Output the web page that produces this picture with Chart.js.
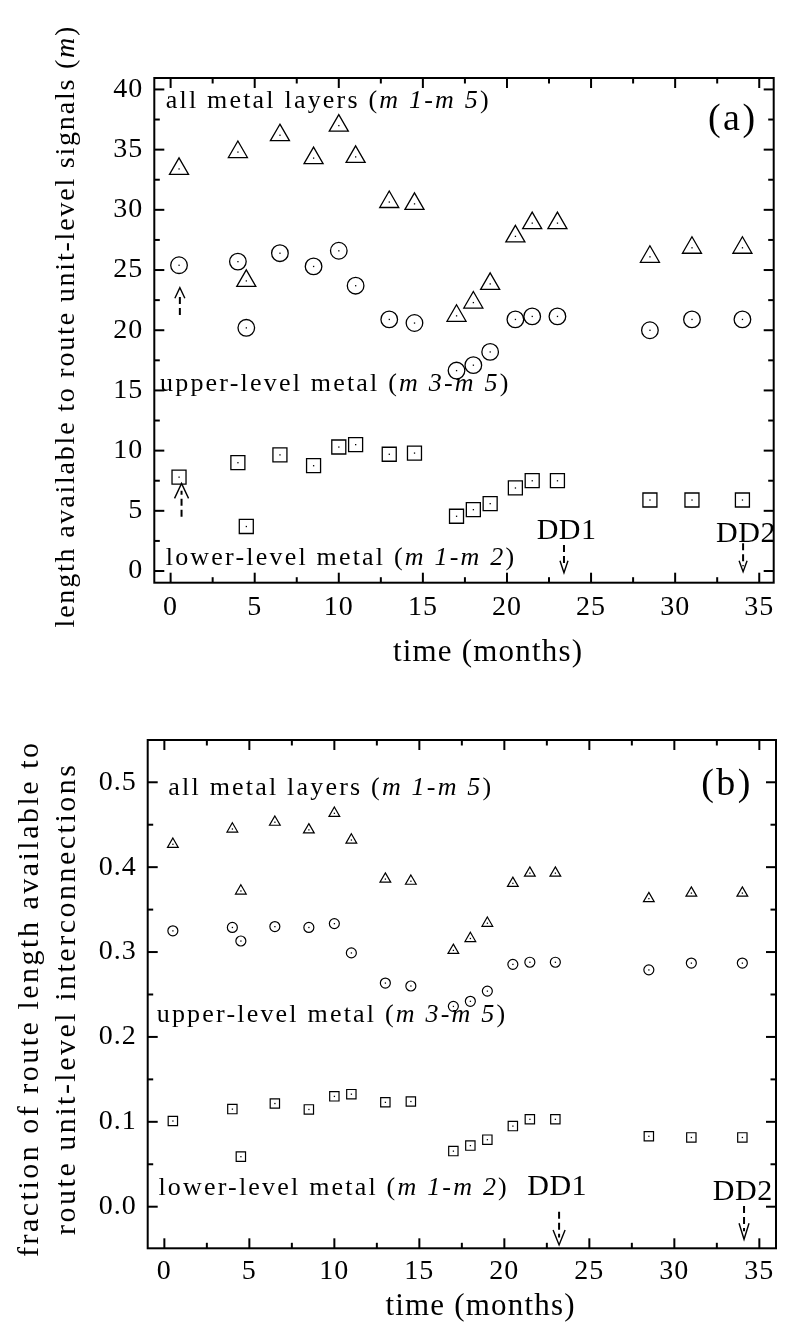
<!DOCTYPE html>
<html><head><meta charset="utf-8">
<script src="https://cdn.jsdelivr.net/npm/chart.js@4.4.1/dist/chart.umd.min.js"></script>
<style>
html,body{margin:0;padding:0;background:#fff;}
#wrap{position:relative;width:786px;height:1329px;overflow:hidden;}
canvas{position:absolute;left:0;}
</style></head><body>
<div id="wrap">
<canvas id="ca" width="786" height="690" style="top:0px"></canvas>
<canvas id="cb" width="786" height="639" style="top:690px"></canvas>
</div>
<script>
// ---------- data ----------
const months = [0.5, 4, 4.5, 6.5, 8.5, 10, 11, 13, 14.5, 17, 18, 19, 20.5, 21.5, 23, 28.5, 31, 34];
// (a) length available to route unit-level signals (m)
const lenAll   = [33.4, 34.8, 24.1, 36.2, 34.3, 37.0, 34.4, 30.65, 30.5, 21.2, 22.3, 23.85, 27.8, 28.9, 28.9, 26.1, 26.85, 26.85];
const lenUpper = [25.4, 25.7, 20.2, 26.4, 25.3, 26.6, 23.7, 20.9, 20.6, 16.65, 17.1, 18.2, 20.9, 21.15, 21.15, 20.0, 20.9, 20.9];
const lenLower = [7.8, 9.0, 3.7, 9.65, 8.75, 10.3, 10.5, 9.7, 9.8, 4.55, 5.1, 5.6, 6.9, 7.5, 7.5, 5.9, 5.9, 5.9];
// (b) fraction of route length
const fracAll   = [0.427, 0.445, 0.372, 0.453, 0.444, 0.4635, 0.432, 0.386, 0.3835, 0.302, 0.316, 0.334, 0.381, 0.393, 0.393, 0.363, 0.3695, 0.3695];
const fracUpper = [0.325, 0.329, 0.313, 0.330, 0.329, 0.3335, 0.299, 0.2635, 0.26, 0.236, 0.242, 0.254, 0.2855, 0.288, 0.288, 0.279, 0.287, 0.287];
const fracLower = [0.101, 0.115, 0.059, 0.1216, 0.1146, 0.130, 0.1326, 0.123, 0.124, 0.0655, 0.072, 0.079, 0.095, 0.103, 0.103, 0.083, 0.0816, 0.0816];
// ticks
const monthTicks = [0, 5, 10, 15, 20, 25, 30, 35];
const monthMinor = [2.5, 7.5, 12.5, 17.5, 22.5, 27.5, 32.5];
const lenTicks = [0, 5, 10, 15, 20, 25, 30, 35, 40];
const lenMinor = [2.5, 7.5, 12.5, 17.5, 22.5, 27.5, 32.5, 37.5];
const fracTicks = [0.0, 0.1, 0.2, 0.3, 0.4, 0.5];
const fracMinor = [0.05, 0.15, 0.25, 0.35, 0.45];
// texts
const xTitle = 'time (months)';
const yTitleA = [['length available to route unit-level signals (', 0], ['m', 1], [')', 0]];
const yTitleB = ['fraction of route length available to', 'route unit-level interconnections'];
const lblAll = [['all metal layers (', 0], ['m 1', 1], ['-', 0], ['m 5', 1], [')', 0]];
const lblUpper = [['upper-level metal (', 0], ['m 3', 1], ['-', 0], ['m 5', 1], [')', 0]];
const lblLower = [['lower-level metal (', 0], ['m 1', 1], ['-', 0], ['m 2', 1], [')', 0]];

const FONT = '"Liberation Serif", "Times New Roman", serif';

function segWidth(ctx, segs, size) {
  let w = 0;
  for (const [t, it] of segs) { ctx.font = (it ? 'italic ' : '') + size + 'px ' + FONT; w += ctx.measureText(t).width; }
  return w;
}
function drawSegs(ctx, segs, x, y, size, ls, align) {
  ctx.letterSpacing = ls + 'px';
  ctx.textBaseline = 'alphabetic';
  ctx.textAlign = 'left';
  const w = segWidth(ctx, segs, size) - ls;
  let cx = align === 'center' ? x - w / 2 : (align === 'right' ? x - w : x);
  for (const [t, it] of segs) {
    ctx.font = (it ? 'italic ' : '') + size + 'px ' + FONT;
    ctx.fillText(t, cx, y);
    cx += ctx.measureText(t).width;
  }
}

function framePlugin(cfg) {
  return {
    id: 'frame' + cfg.id,
    beforeDraw(chart) { chart.ctx.letterSpacing = '1px'; },
    afterDatasetsDraw(chart) {
      const ctx = chart.ctx;
      ctx.save();
      ctx.fillStyle = '#000';
      chart.data.datasets.forEach((ds, i) => {
        chart.getDatasetMeta(i).data.forEach(el => { ctx.fillRect(el.x - 0.6, el.y - 0.6, 1.3, 1.3); });
      });
      ctx.restore();
    },
    afterDraw(chart) {
      const ctx = chart.ctx, a = chart.chartArea, xs = chart.scales.x, ys = chart.scales.y;
      ctx.save();
      ctx.letterSpacing = '0px';
      ctx.strokeStyle = '#000'; ctx.fillStyle = '#000';
      ctx.lineWidth = 2;
      ctx.strokeRect(a.left, a.top, a.right - a.left, a.bottom - a.top);
      const line = (x1, y1, x2, y2) => { ctx.beginPath(); ctx.moveTo(x1, y1); ctx.lineTo(x2, y2); ctx.stroke(); };
      const xt = (vals, len) => vals.forEach(v => { const p = xs.getPixelForValue(v); line(p, a.bottom, p, a.bottom - len); line(p, a.top, p, a.top + len); });
      const yt = (vals, len) => vals.forEach(v => { const p = ys.getPixelForValue(v); line(a.left, p, a.left + len, p); line(a.right, p, a.right - len, p); });
      xt(monthTicks, 10); xt(monthMinor, 5.5);
      yt(cfg.yMajor, 10); yt(cfg.yMinor, 5.5);
      // in-plot labels
      for (const L of cfg.labels) {
        drawSegs(ctx, L.segs, xs.getPixelForValue(L.x), ys.getPixelForValue(L.y), L.size, L.ls, L.align);
      }
      // arrows
      for (const A of cfg.arrows) {
        const px = xs.getPixelForValue(A.x), pt = ys.getPixelForValue(A.tail), pp = ys.getPixelForValue(A.tip);
        const dir = pp > pt ? 1 : -1;
        ctx.lineWidth = 2;
        ctx.setLineDash([7, 4]);
        line(px, pt, px, pp - dir * A.head * 0.5);
        ctx.setLineDash([]);
        ctx.lineWidth = 1.4;
        ctx.beginPath();
        ctx.moveTo(px - A.hw, pp - dir * A.head);
        ctx.lineTo(px, pp);
        ctx.lineTo(px + A.hw, pp - dir * A.head);
        ctx.stroke();
      }
      // axis titles
      drawSegs(ctx, [[xTitle, 0]], cfg.xTitle.x, cfg.xTitle.y, cfg.xTitle.size, cfg.xTitle.ls, 'center');
      for (const T of cfg.yTitles) {
        ctx.save();
        ctx.translate(T.x, T.y);
        ctx.rotate(-Math.PI / 2);
        drawSegs(ctx, T.segs, 0, 0, T.size, T.ls, 'center');
        ctx.restore();
      }
      ctx.restore();
    }
  };
}

function makeChart(cfg) {
  const ds = (vals, style, r) => ({
    data: months.map((m, i) => ({ x: m, y: vals[i] })),
    pointStyle: style, pointRadius: r, pointHoverRadius: r,
    pointBackgroundColor: 'rgba(0,0,0,0)', pointBorderColor: '#000', pointBorderWidth: cfg.bw,
    showLine: false
  });
  const tickFont = { family: FONT, size: 28 };
  return new Chart(document.getElementById(cfg.id), {
    type: 'scatter',
    data: { datasets: [ds(cfg.all, 'triangle', cfg.rT), ds(cfg.upper, 'circle', cfg.rC), ds(cfg.lower, 'rect', cfg.rS)] },
    options: {
      responsive: false, animation: false, events: [],
      layout: { padding: cfg.pad },
      plugins: { legend: { display: false }, tooltip: { enabled: false } },
      scales: {
        x: {
          type: 'linear', min: cfg.xmin, max: cfg.xmax,
          grid: { display: false, drawTicks: false, tickLength: 0 }, border: { display: false },
          ticks: { font: tickFont, color: '#000', padding: cfg.xPad, autoSkip: false, maxRotation: 0, minRotation: 0, callback: v => String(v) },
          afterBuildTicks: s => { s.ticks = monthTicks.map(v => ({ value: v })); },
          afterFit: s => { s.height = cfg.xH; }
        },
        y: {
          type: 'linear', min: cfg.ymin, max: cfg.ymax,
          grid: { display: false, drawTicks: false, tickLength: 0 }, border: { display: false },
          ticks: { font: tickFont, color: '#000', padding: cfg.yPad, autoSkip: false, callback: cfg.yFmt },
          afterBuildTicks: s => { s.ticks = cfg.yMajor.map(v => ({ value: v })); },
          afterFit: s => { s.width = cfg.yW; }
        }
      }
    },
    plugins: [framePlugin(cfg)]
  });
}

const LBL = 26, LLS = 2.2;
makeChart({
  id: 'ca', all: lenAll, upper: lenUpper, lower: lenLower,
  rT: 11, rC: 8.3, rS: 9.9, bw: 1.3,
  pad: { left: 0, top: 78, right: 5.7, bottom: 0 }, yW: 154.3, xH: 107.3,
  xmin: -0.97, xmax: 35.86, ymin: -0.97, ymax: 40.95,
  xPad: 8, yPad: 11, yFmt: v => String(v),
  yMajor: lenTicks, yMinor: lenMinor,
  labels: [
    { segs: lblAll, x: -0.29, y: 38.43, size: LBL, ls: LLS, align: 'left' },
    { segs: lblUpper, x: -0.63, y: 14.95, size: LBL, ls: LLS, align: 'left' },
    { segs: lblLower, x: -0.29, y: 0.5, size: LBL, ls: LLS, align: 'left' },
    { segs: [['(a)', 0]], x: 33.35, y: 36.67, size: 38, ls: 2.5, align: 'center' },
    { segs: [['DD1', 0]], x: 23.53, y: 2.63, size: 30, ls: 0.5, align: 'center' },
    { segs: [['DD2', 0]], x: 34.2, y: 2.43, size: 30, ls: 0.5, align: 'center' }
  ],
  arrows: [
    { x: 0.55, tail: 21.26, tip: 23.53, head: 10.5, hw: 5 },
    { x: 0.65, tail: 4.51, tip: 7.28, head: 15, hw: 7 },
    { x: 23.39, tail: 2.16, tip: -0.14, head: 12, hw: 4 },
    { x: 34.04, tail: 2.30, tip: -0.06, head: 11, hw: 4 }
  ],
  xTitle: { x: 487.5, y: 661.4, size: 31, ls: 1.2 },
  yTitles: [{ segs: yTitleA, x: 74, y: 327, size: 28, ls: 1.8 }]
});
makeChart({
  id: 'cb', all: fracAll, upper: fracUpper, lower: fracLower,
  rT: 6.2, rC: 5, rS: 6.6, bw: 1.2,
  pad: { left: 0, top: 50, right: 10, bottom: 0 }, yW: 147.7, xH: 80.7,
  xmin: -0.98, xmax: 35.98, ymin: -0.049, ymax: 0.5498,
  xPad: 7, yPad: 11, yFmt: v => v.toFixed(1),
  yMajor: fracTicks, yMinor: fracMinor,
  labels: [
    { segs: lblAll, x: 0.235, y: 0.485, size: LBL, ls: LLS, align: 'left' },
    { segs: lblUpper, x: -0.45, y: 0.218, size: LBL, ls: LLS, align: 'left' },
    { segs: lblLower, x: -0.35, y: 0.0138, size: LBL, ls: LLS, align: 'left' },
    { segs: [['(b)', 0]], x: 33.03, y: 0.485, size: 38, ls: 2.5, align: 'center' },
    { segs: [['DD1', 0]], x: 23.09, y: 0.0138, size: 30, ls: 0.5, align: 'center' },
    { segs: [['DD2', 0]], x: 34.01, y: 0.0079, size: 30, ls: 0.5, align: 'center' }
  ],
  arrows: [
    { x: 23.22, tail: -0.0059, tip: -0.0451, head: 15, hw: 6 },
    { x: 34.1, tail: 0.0008, tip: -0.0384, head: 16, hw: 5 }
  ],
  xTitle: { x: 480, y: 624.7, size: 31, ls: 1.2 },
  yTitles: [
    { segs: [[yTitleB[0], 0]], x: 38, y: 310, size: 30, ls: 2.5 },
    { segs: [[yTitleB[1], 0]], x: 75, y: 310, size: 30, ls: 2.5 }
  ]
});
</script>
</body></html>
